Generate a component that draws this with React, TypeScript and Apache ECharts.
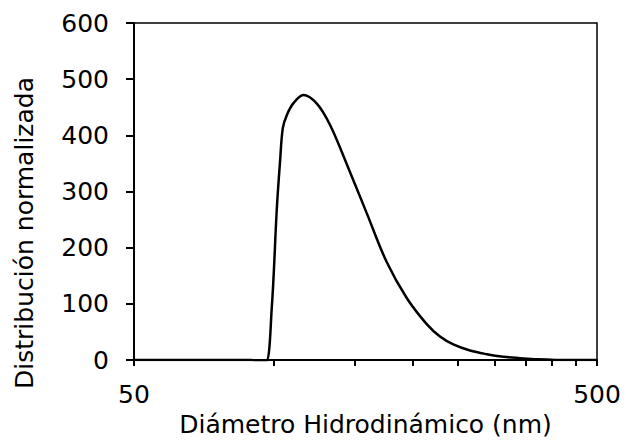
import React, { useEffect, useRef } from "react";
import * as echarts from "echarts";

// Hydrodynamic diameter (nm) and normalized distribution
const diameters = [50, 60, 70, 80, 89.8, 93, 96.4, 99.2, 101.7, 103.4, 104.8, 106.9, 110.4, 116.1, 124.0, 132.5, 144.0, 159.0, 175.7, 194.1, 214.4, 229.0, 244.7, 265.9, 289, 313.9, 341, 370.6, 437, 500];
const distribution = [0, 0, 0, 0, 0, -2, -2, 93, 268, 355, 413, 436, 457, 472, 457, 419, 349, 262, 174.5, 110.6, 64, 42, 28, 17, 10.5, 6, 3.5, 1.5, 0, 0];

const xTickValues = [50, 100, 150, 200, 250, 300, 350, 400, 450, 500];
const xLabelValues = [50, 500];
const yMin = 0;
const yMax = 600;
const yInterval = 100;

const xTitle = "Diámetro Hidrodinámico (nm)";
const yTitle = "Distribución normalizada";

export default function App() {
  const ref = useRef<HTMLDivElement>(null);
  useEffect(() => {
    if (!ref.current) return;
    const chart = echarts.init(ref.current, null, { renderer: "svg" });
    const font = "DejaVu Sans";
    const xMin = Math.log10(50);
    const xMax = Math.log10(500);
    chart.setOption({
      animation: false,
      backgroundColor: "#fff",
      grid: {
        left: 134,
        right: 29,
        top: 23,
        bottom: 75,
        show: true,
        borderColor: "#000",
        borderWidth: 1.5,
        backgroundColor: "transparent",
      },
      xAxis: {
        type: "value",
        min: xMin,
        max: xMax,
        name: xTitle,
        nameLocation: "middle",
        nameGap: 46,
        nameTextStyle: { fontFamily: font, fontSize: 25, color: "#000" },
        axisLine: { show: true, onZero: false, lineStyle: { color: "#000", width: 2 } },
        axisTick: {
          show: true,
          length: 6,
          lineStyle: { color: "#000", width: 2 },
          customValues: xTickValues.map((v) => Math.log10(v)),
        },
        axisLabel: {
          show: true,
          margin: 22,
          fontFamily: font,
          fontSize: 25,
          color: "#000",
          customValues: xLabelValues.map((v) => Math.log10(v)),
          formatter: (v: number) => String(Math.round(Math.pow(10, v))),
        },
        splitLine: { show: false },
      },
      yAxis: {
        type: "value",
        min: yMin,
        max: yMax,
        interval: yInterval,
        axisLine: { show: true, lineStyle: { color: "#000", width: 2 } },
        axisTick: { show: true, length: 8, lineStyle: { color: "#000", width: 2 } },
        axisLabel: { margin: 25, fontFamily: font, fontSize: 25, color: "#000" },
        splitLine: { show: false },
      },
      graphic: [
        {
          type: "text",
          x: 24,
          y: 233,
          rotation: Math.PI / 2,
          style: {
            text: yTitle,
            fontFamily: font,
            fontSize: 25,
            fill: "#000",
            align: "center",
            verticalAlign: "middle",
          },
        },
      ],
      series: [
        {
          type: "line",
          data: diameters.map((d, i) => [Math.log10(d), distribution[i]]),
          showSymbol: false,
          smooth: 0.35,
          lineStyle: { color: "#000", width: 2.5 },
          clip: true,
        },
      ],
    });
    return () => chart.dispose();
  }, []);
  return (
    <div
      ref={ref}
      style={{ position: "fixed", left: 0, top: 0, width: 626, height: 442 }}
    />
  );
}
